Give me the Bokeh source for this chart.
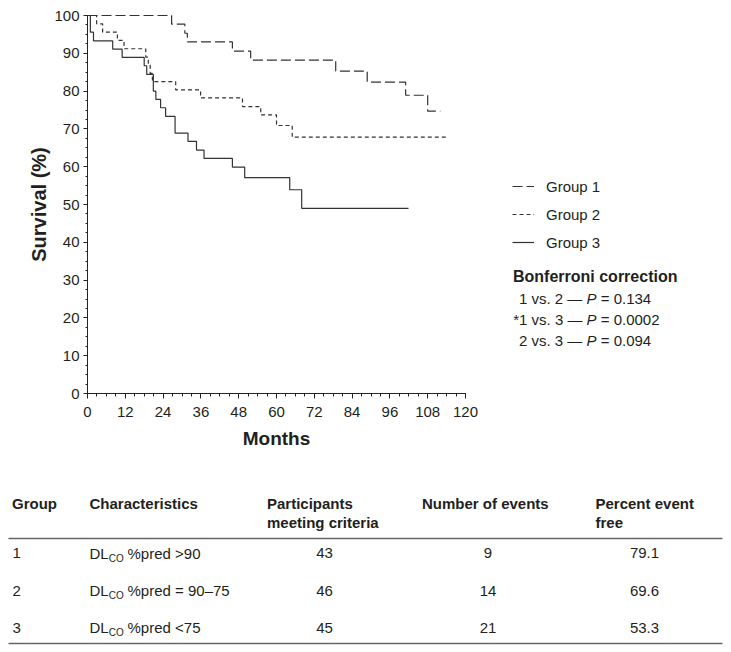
import math
from bokeh.plotting import figure
from bokeh.models import Range1d, FixedTicker, Legend, LegendItem, ColumnDataSource
from bokeh.core.properties import value
from bokeh.embed import file_html
from bokeh.resources import INLINE

# ---------------- data ----------------
month_ticks = [0, 12, 24, 36, 48, 60, 72, 84, 96, 108, 120]
month_minor = list(range(0, 121, 3))
surv_ticks = [0, 10, 20, 30, 40, 50, 60, 70, 80, 90, 100]
surv_minor = [i * 2.5 for i in range(41)]
x_title = "Months"
y_title = "Survival (%)"

g1_months = [0, 26.7, 30.9, 31.7, 46.0, 51.8, 78.8, 88.8, 101.0, 108.0, 112.0]
g1_surv = [100, 97.7, 95.3, 93.0, 90.6, 88.2, 85.3, 82.4, 78.9, 74.7, 74.7]

g2_months = [0, 2.9, 4.8, 9.5, 11.6, 18.5, 19.3, 19.9, 20.6, 28.0, 35.9, 49.2, 55.0, 60.0, 65.0, 114.2]
g2_surv = [100, 97.8, 95.6, 93.4, 91.2, 89.0, 86.9, 84.7, 82.5, 80.3, 78.2, 75.9, 73.7, 70.9, 67.8, 67.8]

g3_months = [0, 0.9, 1.9, 8.0, 11.0, 18.0, 18.8, 20.9, 21.7, 23.2, 24.8, 27.8, 31.9, 34.6, 37.0, 46.0, 49.9, 64.2, 68.0, 101.9]
g3_surv = [100, 95.6, 93.3, 91.1, 88.9, 86.7, 84.4, 80.0, 77.8, 75.6, 73.3, 68.9, 66.7, 64.4, 62.2, 59.9, 57.1, 53.9, 49.0, 49.0]

legend_labels = ["Group 1", "Group 2", "Group 3"]
bonf_title = "Bonferroni correction"
bonf_prefix = ["1 vs. 2 \u2014", "*1 vs. 3 \u2014", "2 vs. 3 \u2014"]
bonf_p = ["0.134", "0.0002", "0.094"]

tbl_headers_1 = ["Group", "Characteristics", "Participants", "Number of events", "Percent event"]
tbl_headers_2 = ["", "", "meeting criteria", "", "free"]
tbl_groups = ["1", "2", "3"]
tbl_char = ["%pred >90", "%pred = 90\u201375", "%pred <75"]
tbl_participants = [43, 46, 45]
tbl_events = [9, 14, 21]
tbl_event_free = [79.1, 69.6, 53.3]

# ---------------- style / geometry ----------------
FONT = "Liberation Sans"
INK = "#231f20"
LINE = "#333333"
W_PAGE, H_PAGE = 731, 652
X0_PX, Y100_PX = 87, 15      # page pixel of month 0 and of 100 %
PX_X = 378 / 120.0           # pixels per month
PX_Y = 378 / 100.0           # pixels per percent
X_START = -X0_PX / PX_X
X_END = (W_PAGE - X0_PX) / PX_X
Y_TOP = 100 + Y100_PX / PX_Y
Y_BOT = 100 - (H_PAGE - Y100_PX) / PX_Y

CW = {' ': 278, 'v': 500, 's': 500, '.': 278, '\u2014': 1000, 'P': 667, '=': 584, '*': 389}


def tw(s, size):
    return sum(CW.get(c, 556) for c in s) * size / 1000.0


p = figure(width=W_PAGE, height=H_PAGE, x_range=Range1d(X_START, X_END), y_range=Range1d(Y_BOT, Y_TOP),
           output_backend="svg", toolbar_location=None, min_border=0)
p.extra_x_ranges = {"px": Range1d(0, W_PAGE)}
p.extra_y_ranges = {"py": Range1d(H_PAGE, 0)}
p.outline_line_color = None
p.xgrid.visible = False
p.ygrid.visible = False

for ax in (p.xaxis[0], p.yaxis[0]):
    ax.axis_line_color = "#222222"
    ax.major_tick_line_color = "#222222"
    ax.minor_tick_line_color = "#222222"
    ax.major_tick_in = 0
    ax.minor_tick_in = 0
    ax.major_label_text_font = FONT
    ax.major_label_text_font_size = "15px"
    ax.major_label_text_color = INK

p.xaxis.fixed_location = 0
p.yaxis.fixed_location = 0
p.xaxis.bounds = (0, 120)
p.yaxis.bounds = (0, 100)
p.xaxis.ticker = FixedTicker(ticks=month_ticks, minor_ticks=month_minor)
p.yaxis.ticker = FixedTicker(ticks=surv_ticks, minor_ticks=surv_minor)
p.xaxis.major_tick_out = 5
p.xaxis.minor_tick_out = 3
p.yaxis.major_tick_out = 4
p.yaxis.minor_tick_out = 2
p.xaxis.major_label_standoff = 8
p.yaxis.major_label_standoff = 4

r1 = p.step(g1_months, g1_surv, mode="after", line_color=LINE, line_width=1.2, line_dash="10 4")
r2 = p.step(g2_months, g2_surv, mode="after", line_color=LINE, line_width=1.2, line_dash="4 3")
r3 = p.step(g3_months, g3_surv, mode="after", line_color=LINE, line_width=1.2)

legend = Legend(items=[LegendItem(label=legend_labels[i], renderers=[r]) for i, r in enumerate((r1, r2, r3))],
                location=(512, H_PAGE - 252), orientation="vertical", glyph_width=22, glyph_height=20,
                label_height=20, spacing=8, padding=0, margin=0, label_standoff=12,
                border_line_color=None, background_fill_alpha=0,
                label_text_font=FONT, label_text_font_size="15px", label_text_color=INK)
p.add_layout(legend)

PXR = dict(x_range_name="px", y_range_name="py")

# axis titles
p.text(x=[X0_PX + 189], y=[438], text=[x_title], text_font=value(FONT), text_font_size="19px",
       text_font_style="bold", text_color=INK, text_baseline="middle", text_align="center", **PXR)
p.text(x=[38], y=[204], text=[y_title], angle=math.pi / 2, text_font=value(FONT), text_font_size="20px",
       text_font_style="bold", text_color=INK, text_baseline="middle", text_align="center", **PXR)

# Bonferroni block
p.text(x=[512.5], y=[276], text=[bonf_title], text_font=value(FONT), text_font_size="16px",
       text_font_style="bold", text_color=INK, text_baseline="middle", text_align="left", **PXR)
b_y = [297.5, 318.5, 339.5]
b_x0 = [512.7 if s.startswith("*") else 518.5 for s in bonf_prefix]
b_xp = [x + tw(s + " ", 15) for x, s in zip(b_x0, bonf_prefix)]
b_xs = [x + tw("P ", 15) for x in b_xp]
bsrc = ColumnDataSource(dict(y=b_y, x0=b_x0, xp=b_xp, xs=b_xs, pre=bonf_prefix, pp=["P"] * 3,
                             suf=["= " + v for v in bonf_p]))
bcommon = dict(source=bsrc, y="y", text_font=value(FONT), text_font_size="15px", text_color=INK,
               text_baseline="middle", text_align="left", **PXR)
p.text(x="x0", text="pre", **bcommon)
p.text(x="xp", text="pp", text_font_style="italic", **bcommon)
p.text(x="xs", text="suf", **bcommon)

# ---------------- table ----------------
col_x_left = [11.5, 89, 266.5, 421.5, 595]
hy1, hy2 = 502.7, 521.7
p.text(x=col_x_left, y=[hy1] * 5, text=tbl_headers_1, text_font=value(FONT), text_font_size="15px",
       text_font_style="bold", text_color=INK, text_baseline="middle", text_align="left", **PXR)
p.text(x=col_x_left, y=[hy2] * 5, text=tbl_headers_2, text_font=value(FONT), text_font_size="15px",
       text_font_style="bold", text_color=INK, text_baseline="middle", text_align="left", **PXR)

rule_y = [538, 643]
p.segment(x0=[8] * 2, y0=rule_y, x1=[722] * 2, y1=rule_y, line_color="#666666", line_width=1.6, **PXR)

rows_y = [552.5, 590, 627]
src = ColumnDataSource(dict(
    y=rows_y, ysub=[y + 5 for y in rows_y], grp=tbl_groups, dl=["DL"] * 3, co=["CO"] * 3,
    ch=tbl_char, part=[str(v) for v in tbl_participants], ev=[str(v) for v in tbl_events],
    free=["%.1f" % v for v in tbl_event_free]))
common = dict(source=src, text_font=value(FONT), text_color=INK, text_baseline="middle", **PXR)
p.text(x=12, y="y", text="grp", text_font_size="15px", text_align="left", **common)
p.text(x=89, y="y", text="dl", text_font_size="15px", text_align="left", **common)
p.text(x=108.3, y="ysub", text="co", text_font_size="10px", text_align="left", **common)
p.text(x=127, y="y", text="ch", text_font_size="15px", text_align="left", **common)
p.text(x=324, y="y", text="part", text_font_size="15px", text_align="center", **common)
p.text(x=487.5, y="y", text="ev", text_font_size="15px", text_align="center", **common)
p.text(x=644, y="y", text="free", text_font_size="15px", text_align="center", **common)

open("out.html", "w").write(file_html(p, INLINE))
